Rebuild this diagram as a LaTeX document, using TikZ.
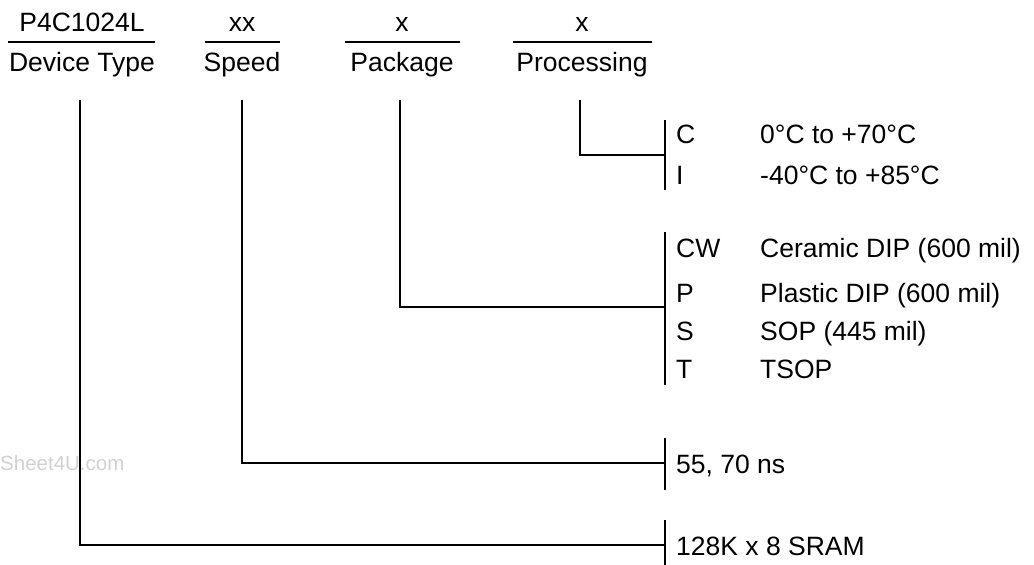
\documentclass[tikz,border=0pt]{standalone}
\usepackage{fontspec}
\setmainfont{Liberation Sans}
\begin{document}
\begin{tikzpicture}[x=1pt,y=-1pt,
  lbl/.style={inner sep=0pt, font=\fontsize{26.5}{30}\selectfont},
  hdr/.style={lbl, anchor=base},
  item/.style={lbl, anchor=base west},
  wire/.style={line width=1.5pt},
  bar/.style={line width=1.5pt}]
\useasboundingbox (0,0) rectangle (1034,565);
% header
\node[hdr] (t1) at (82,31) {P4C1024L};
\node[hdr] (b1) at (82,71) {Device Type};
\node[hdr] (t2) at (242,31) {xx};
\node[hdr] (b2) at (242,71) {Speed};
\node[hdr] (t3) at (402,31) {x};
\node[hdr] (b3) at (402,71) {Package};
\node[hdr] (t4) at (582,31) {x};
\node[hdr] (b4) at (582,71) {Processing};
\draw[wire] (8,42) -- (155,42);
\draw[wire] (205,42) -- (280,42);
\draw[wire] (345,42) -- (460,42);
\draw[wire] (513,42) -- (652,42);
% bars
\coordinate (p1) at (665,120); \coordinate (p2) at (665,190);
\coordinate (k1) at (665,232); \coordinate (k2) at (665,385);
\coordinate (s1) at (665,438); \coordinate (s2) at (665,490);
\coordinate (d1) at (665,520); \coordinate (d2) at (665,566);
\draw[bar] (p1) -- (p2);
\draw[bar] (k1) -- (k2);
\draw[bar] (s1) -- (s2);
\draw[bar] (d1) -- (d2);
% connectors
\draw[wire] (580,100) |- (665,155);
\draw[wire] (400,100) |- (665,307);
\draw[wire] (242,100) |- (665,463);
\draw[wire] (80,100) |- (665,545);
% processing
\node[item] (c) at (676,143) {C};
\node[item] (cd) at (760,143) {0°C to +70°C};
\node[item] (i) at (676,184) {I};
\node[item] (id) at (760,184) {-40°C to +85°C};
% package
\node[item] (cw) at (676,257) {CW};
\node[item] (cwd) at (760,257) {Ceramic DIP (600 mil)};
\node[item] (p) at (676,302) {P};
\node[item] (pd) at (760,302) {Plastic DIP (600 mil)};
\node[item] (s) at (676,340) {S};
\node[item] (sd) at (760,340) {SOP (445 mil)};
\node[item] (t) at (676,378) {T};
\node[item] (td) at (760,378) {TSOP};
% speed
\node[item] (sp) at (676,473) {55, 70 ns};
% device
\node[item] (dv) at (676,555) {128K x 8 SRAM};
% watermark
\node[inner sep=0pt, anchor=base west, text=black!18, font=\fontsize{20.5}{24}\selectfont] (wm) at (0,470) {Sheet4U.com};
\end{tikzpicture}
\end{document}
